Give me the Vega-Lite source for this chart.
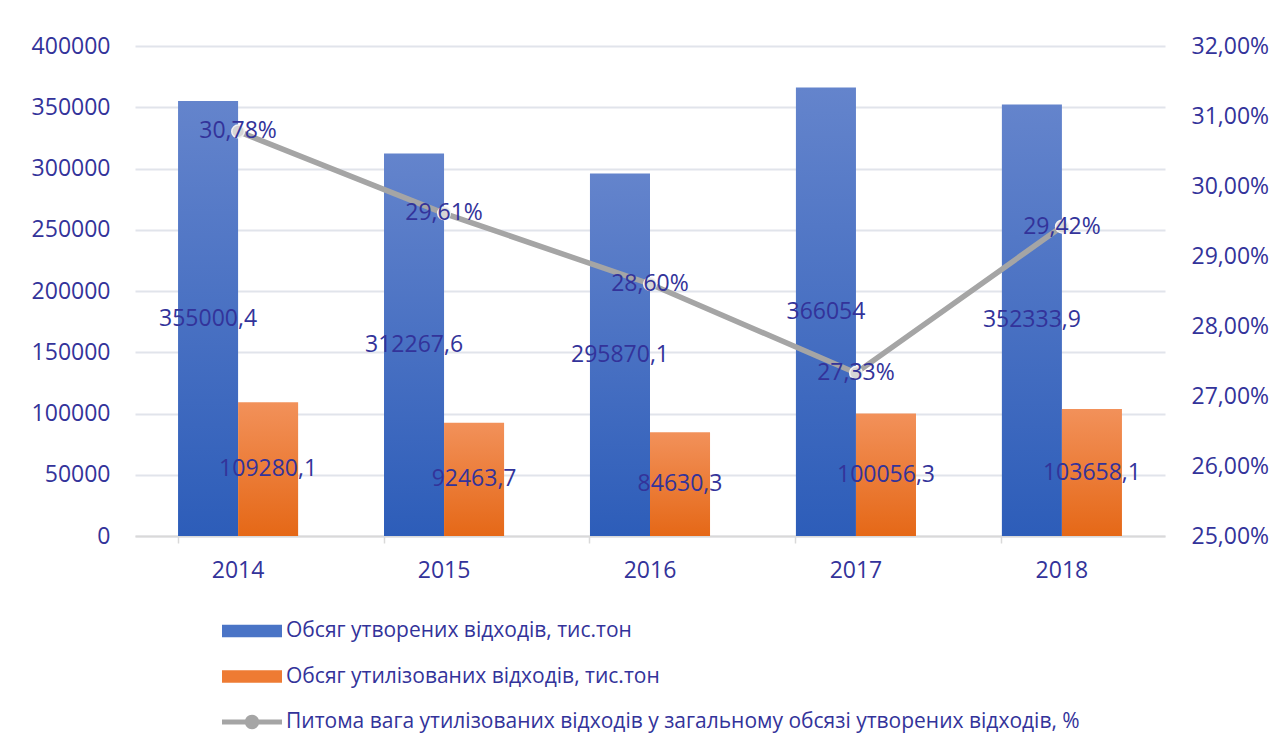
{
  "$schema": "https://vega.github.io/schema/vega-lite/v6.json",
  "width": 1030,
  "height": 490,
  "autosize": {"type": "none"},
  "padding": {"left": 135, "top": 46, "right": 117, "bottom": 216},
  "background": "white",
  "config": {
    "view": {"stroke": null},
    "font": "Open Sans",
    "locale": {"number": {"decimal": ",", "thousands": "", "grouping": [3], "currency": ["", ""], "percent": "%"}},
    "axis": {"labelFont": "Open Sans", "labelFontSize": 23, "labelColor": "#33339A", "title": null},
    "legend": {
      "orient": "none", "legendX": 87, "legendY": 555, "direction": "vertical",
      "padding": 0, "labelFont": "Open Sans", "labelFontSize": 21, "labelColor": "#33339A",
      "labelLimit": 2000, "labelOffset": 4, "symbolSize": 3600, "rowPadding": 5.5, "title": null,
      "symbolOpacity": 1, "symbolStrokeWidth": 0
    }
  },
  "datasets": {
    "bars": [
      {"year": "2014", "series": "Обсяг утворених відходів, тис.тон", "value": 355000.4},
      {"year": "2015", "series": "Обсяг утворених відходів, тис.тон", "value": 312267.6},
      {"year": "2016", "series": "Обсяг утворених відходів, тис.тон", "value": 295870.1},
      {"year": "2017", "series": "Обсяг утворених відходів, тис.тон", "value": 366054},
      {"year": "2018", "series": "Обсяг утворених відходів, тис.тон", "value": 352333.9},
      {"year": "2014", "series": "Обсяг утилізованих відходів, тис.тон", "value": 109280.1},
      {"year": "2015", "series": "Обсяг утилізованих відходів, тис.тон", "value": 92463.7},
      {"year": "2016", "series": "Обсяг утилізованих відходів, тис.тон", "value": 84630.3},
      {"year": "2017", "series": "Обсяг утилізованих відходів, тис.тон", "value": 100056.3},
      {"year": "2018", "series": "Обсяг утилізованих відходів, тис.тон", "value": 103658.1}
    ],
    "pct": [
      {"year": "2014", "pct": 0.3078},
      {"year": "2015", "pct": 0.2961},
      {"year": "2016", "pct": 0.2860},
      {"year": "2017", "pct": 0.2733},
      {"year": "2018", "pct": 0.2942}
    ]
  },
  "layer": [
    {
      "data": {"name": "bars"},
      "transform": [{"filter": "datum.series === 'Обсяг утворених відходів, тис.тон'"}],
      "mark": {"type": "bar", "strokeWidth": 0, "fill": {"gradient": "linear", "x1": 0, "y1": 0, "x2": 0, "y2": 1, "stops": [{"offset": 0, "color": "#6484CC"}, {"offset": 1, "color": "#2D5DB9"}]}},
      "encoding": {
        "x": {
          "field": "year", "type": "nominal",
          "scale": {"paddingInner": 0.417, "paddingOuter": 0.209},
          "axis": {
            "labelAngle": 0, "domain": true, "domainColor": "#D9D9D9", "domainWidth": 2,
            "ticks": true, "tickColor": "#D9D9D9", "tickSize": 7, "tickWidth": 1.5,
            "bandPosition": 0, "labelPadding": 16, "grid": false
          }
        },
        "xOffset": {
          "field": "series", "type": "nominal",
          "scale": {"domain": ["Обсяг утворених відходів, тис.тон", "Обсяг утилізованих відходів, тис.тон"], "paddingInner": 0, "paddingOuter": 0}
        },
        "y": {
          "field": "value", "type": "quantitative",
          "scale": {"domain": [0, 400000], "nice": false},
          "axis": {
            "orient": "left", "values": [0, 50000, 100000, 150000, 200000, 250000, 300000, 350000, 400000],
            "format": "d", "grid": true, "gridColor": "#E1E4EB", "gridWidth": 2,
            "domain": false, "ticks": false, "tickSize": 0, "labelPadding": 25
          }
        }
      }
    },
    {
      "data": {"name": "bars"},
      "transform": [{"filter": "datum.series === 'Обсяг утилізованих відходів, тис.тон'"}],
      "mark": {"type": "bar", "strokeWidth": 0, "fill": {"gradient": "linear", "x1": 0, "y1": 0, "x2": 0, "y2": 1, "stops": [{"offset": 0, "color": "#F2915A"}, {"offset": 1, "color": "#E56817"}]}},
      "encoding": {
        "x": {"field": "year", "type": "nominal"},
        "xOffset": {"field": "series", "type": "nominal"},
        "y": {"field": "value", "type": "quantitative", "scale": {"domain": [0, 400000], "nice": false}, "axis": null}
      }
    },
    {
      "data": {"name": "bars"},
      "mark": {"type": "text", "fontSize": 23, "color": "#33339A", "align": "center", "baseline": "middle", "font": "Open Sans"},
      "encoding": {
        "x": {"field": "year", "type": "nominal"},
        "xOffset": {"field": "series", "type": "nominal"},
        "y": {"field": "value", "type": "quantitative", "scale": {"domain": [0, 800000], "nice": false}, "axis": null},
        "text": {"field": "value", "type": "quantitative", "format": "~f"}
      }
    },
    {
      "data": {"name": "pct"},
      "mark": {"type": "line", "strokeWidth": 5.5, "strokeCap": "round", "color": "#A5A5A5"},
      "encoding": {
        "x": {"field": "year", "type": "nominal"},
        "y": {
          "field": "pct", "type": "quantitative",
          "scale": {"domain": [0.25, 0.32], "nice": false, "zero": false},
          "axis": {
            "orient": "right", "values": [0.25, 0.26, 0.27, 0.28, 0.29, 0.30, 0.31, 0.32],
            "format": ".2%", "grid": false, "domain": false, "ticks": false, "tickSize": 0, "labelPadding": 26
          }
        }
      }
    },
    {
      "data": {"name": "pct"},
      "mark": {"type": "point", "filled": true, "opacity": 0},
      "encoding": {
        "x": {"field": "year", "type": "nominal"},
        "y": {"field": "pct", "type": "quantitative", "scale": {"domain": [0.25, 0.32], "nice": false, "zero": false}, "axis": null},
        "fill": {
          "datum": "Питома вага утилізованих відходів у загальному обсязі утворених відходів, %",
          "scale": {
            "domain": ["Обсяг утворених відходів, тис.тон", "Обсяг утилізованих відходів, тис.тон", "Питома вага утилізованих відходів у загальному обсязі утворених відходів, %"],
            "range": ["#4A74C6", "#EE7B33", "#A5A5A5"]
          },
          "legend": {"title": null}
        },
        "shape": {
          "datum": "Питома вага утилізованих відходів у загальному обсязі утворених відходів, %",
          "scale": {
            "domain": ["Обсяг утворених відходів, тис.тон", "Обсяг утилізованих відходів, тис.тон", "Питома вага утилізованих відходів у загальному обсязі утворених відходів, %"],
            "range": ["M-1,-0.21H1V0.21H-1Z", "M-1,-0.21H1V0.21H-1Z", "M-1,-0.08H1V0.08H-1Z M-0.24,0A0.24,0.24 0 1,1 0.24,0A0.24,0.24 0 1,1 -0.24,0Z"]
          },
          "legend": {"title": null}
        }
      }
    },
    {
      "data": {"name": "pct"},
      "mark": {"type": "point", "filled": true, "fill": "#D6D6D6", "stroke": "#F2F2F2", "strokeWidth": 1.5, "size": 160, "opacity": 1},
      "encoding": {
        "x": {"field": "year", "type": "nominal"},
        "y": {"field": "pct", "type": "quantitative", "scale": {"domain": [0.25, 0.32], "nice": false, "zero": false}, "axis": null}
      }
    },
    {
      "data": {"name": "pct"},
      "mark": {"type": "text", "fontSize": 23, "color": "#33339A", "align": "center", "baseline": "middle", "font": "Open Sans"},
      "encoding": {
        "x": {"field": "year", "type": "nominal"},
        "y": {"field": "pct", "type": "quantitative", "scale": {"domain": [0.25, 0.32], "nice": false, "zero": false}, "axis": null},
        "text": {"field": "pct", "type": "quantitative", "format": ".2%"}
      }
    }
  ],
  "resolve": {"scale": {"y": "independent"}}
}
